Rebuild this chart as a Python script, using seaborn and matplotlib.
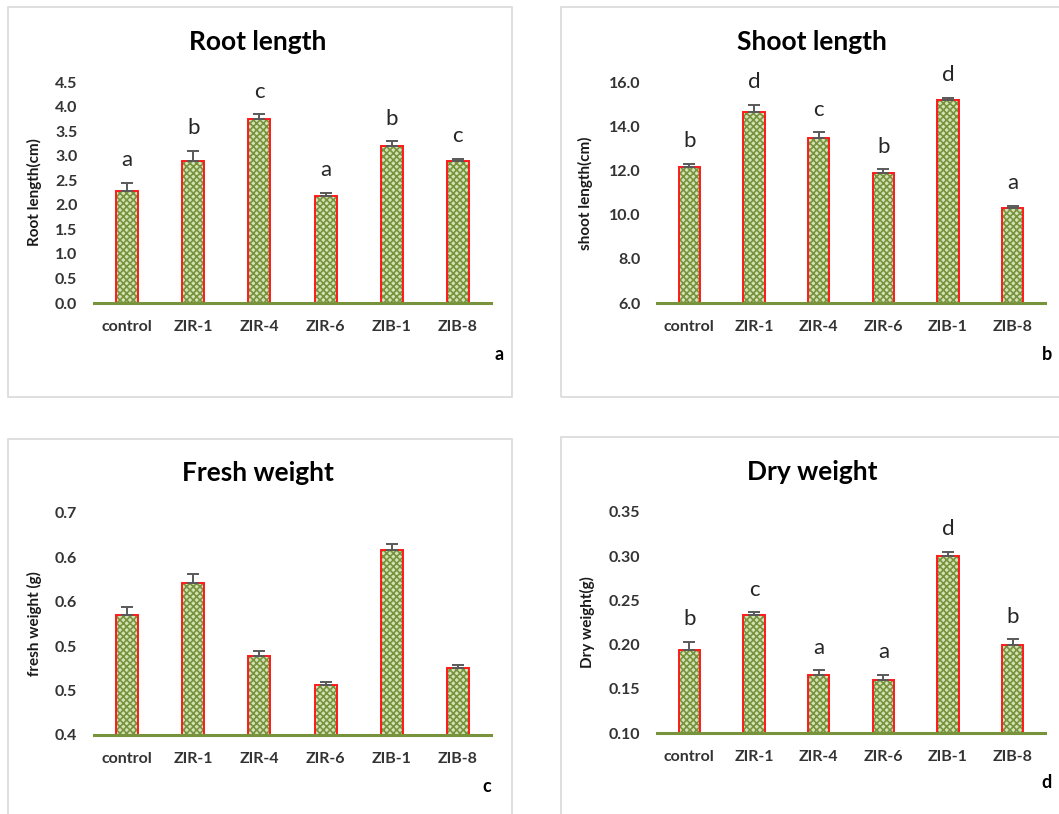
import numpy as np
import matplotlib
matplotlib.use("Agg")
import matplotlib.pyplot as plt
from matplotlib.patches import Rectangle
import seaborn as sns

# datos
categorias = ['control', 'ZIR-1', 'ZIR-4', 'ZIR-6', 'ZIB-1', 'ZIB-8']

raiz = [2.29, 2.89, 3.74, 2.17, 3.19, 2.89]
raiz_err = [0.16, 0.21, 0.10, 0.08, 0.10, 0.05]
raiz_letras = ['a', 'b', 'c', 'a', 'b', 'c']

tallo = [12.19, 14.69, 13.48, 11.89, 15.22, 10.29]
tallo_err = [0.12, 0.31, 0.26, 0.18, 0.10, 0.12]
tallo_letras = ['b', 'd', 'c', 'b', 'd', 'a']

fresco = [0.562, 0.606, 0.507, 0.467, 0.650, 0.491]
fresco_err = [0.011, 0.012, 0.006, 0.004, 0.008, 0.004]

seco = [0.194, 0.2335, 0.166, 0.1605, 0.300, 0.200]
seco_err = [0.009, 0.003, 0.005, 0.0055, 0.005, 0.006]
seco_letras = ['b', 'c', 'a', 'a', 'd', 'b']

sns.set_style('white')
plt.rcParams['font.family'] = ['Lato', 'DejaVu Sans']
plt.rcParams['hatch.linewidth'] = 1.2

W, H = 1059, 814
fig = plt.figure(figsize=(W / 100, H / 100), dpi=100)

VERDE = '#77933c'
CLARO = '#d5e1b8'
ROJO = '#ff1a1a'
TXT = '#333333'


def px_ax(x0, x1, y_top, y_bot):
    return fig.add_axes([x0 / W, (H - y_bot) / H, (x1 - x0) / W, (y_bot - y_top) / H])


def marco(x0, y0, x1, y1):
    fig.patches.append(Rectangle((x0 / W, 1 - y1 / H), (x1 - x0) / W, (y1 - y0) / H,
                                 transform=fig.transFigure, fill=False,
                                 ec='#d9d9d9', lw=1.2))


def panel(ax, valores, errores, letras, ticks, fmt, ylabel, label_x):
    sns.barplot(x=categorias, y=valores, color=CLARO, saturation=1, width=0.33,
                hatch='xxxxx', edgecolor=VERDE, linewidth=0, ax=ax)
    for p in list(ax.patches):
        ax.add_patch(Rectangle(p.get_xy(), p.get_width(), p.get_height(),
                               fill=False, ec=ROJO, lw=1.4, zorder=1.5))
    x = np.arange(len(categorias))
    ax.errorbar(x, valores, yerr=[np.zeros(len(errores)), errores], fmt='none',
                ecolor='#595959', elinewidth=1.4, capsize=4.5, capthick=1.4, zorder=3)
    if letras is not None:
        for i, l in enumerate(letras):
            ax.annotate(l, (i, valores[i] + errores[i]), xytext=(0, 12),
                        textcoords='offset points', ha='center', va='baseline',
                        fontsize=16, color='#262626')
    ax.set_xlim(-0.5, len(categorias) - 0.5)
    ax.set_ylim(ticks[0], ticks[-1])
    ax.set_yticks(ticks)
    ax.set_yticklabels([fmt % t for t in ticks])
    for s in ['top', 'right', 'left']:
        ax.spines[s].set_visible(False)
    ax.spines['bottom'].set_color(VERDE)
    ax.spines['bottom'].set_linewidth(2.2)
    ax.spines['bottom'].set_zorder(4)
    ax.tick_params(axis='both', length=0, labelsize=11.5, colors=TXT)
    ax.tick_params(axis='y', pad=12)
    ax.tick_params(axis='x', pad=12)
    for t in ax.get_xticklabels() + ax.get_yticklabels():
        t.set_fontweight('bold')
    ax.set_ylabel(ylabel, fontsize=11, fontweight='bold', color='#1a1a1a')
    ax.yaxis.set_label_coords(label_x, 0.5)
    ax.set_facecolor('none')


marco(8, 7, 512, 397)
marco(561, 7, 1070, 397)
marco(8, 439, 512, 830)
marco(561, 437, 1070, 830)

ax1 = px_ax(94, 491, 82, 303)
panel(ax1, raiz, raiz_err, raiz_letras, np.linspace(0, 4.5, 10), '%.1f',
      'Root length(cm)', -0.131)

ax2 = px_ax(657, 1045, 82.7, 303)
panel(ax2, tallo, tallo_err, tallo_letras, np.linspace(6, 16, 6), '%.1f',
      'shoot length(cm)', -0.165)

ax3 = px_ax(94, 491, 513, 735)
panel(ax3, fresco, fresco_err, None, np.linspace(0.4, 0.7, 6), '%.1f',
      'fresh weight (g)', -0.131)

ax4 = px_ax(657, 1045, 511.7, 733.3)
panel(ax4, seco, seco_err, seco_letras, np.linspace(0.10, 0.35, 6), '%.2f',
      'Dry weight(g)', -0.160)

titulos = [('Root length', 258, 42), ('Shoot length', 812, 42),
           ('Fresh weight', 258, 473), ('Dry weight', 812, 472)]
for t, x, y in titulos:
    fig.text(x / W, 1 - y / H, t, ha='center', va='center', fontsize=19,
             fontweight='bold', color='black')

for l, x, y in [('a', 499, 354), ('b', 1047, 354), ('c', 487, 787), ('d', 1047, 782)]:
    fig.text(x / W, 1 - y / H, l, ha='center', va='center', fontsize=13,
             fontweight='bold', color='black')

fig.savefig('out.png', dpi=100, facecolor='white')
